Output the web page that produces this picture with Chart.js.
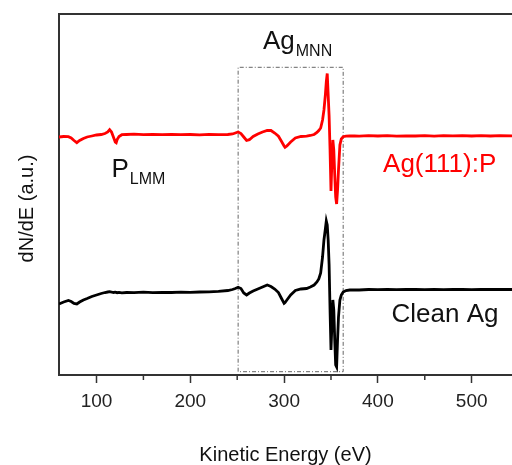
<!DOCTYPE html>
<html lang="en">
<head>
  <meta charset="UTF-8" />
  <title>AES spectra: Ag(111):P and clean Ag</title>
  <script src="https://cdn.jsdelivr.net/npm/chart.js"></script>
  <style>
    html, body { margin: 0; padding: 0; background: #fff; }
    canvas { display: block; }
  </style>
</head>
<body>
  <canvas id="grafico" width="512" height="465"></canvas>

  <script>
    // kinetic energy grid (eV)
    const energy = [
      60, 65, 70, 73, 76, 79, 82, 86, 90, 95, 100, 105, 109, 112, 114, 116, 118, 120, 121, 122, 124, 127,
      132, 140, 150, 160, 170, 180, 190, 200, 210, 220, 230, 240, 245, 248, 251, 254, 257, 260, 263,
      267, 272, 277, 282, 286, 290, 294, 297, 300, 301, 303, 307, 312, 318, 324, 328, 332, 335, 337, 339,
      341, 342.5, 344, 345, 346, 347, 348, 349, 350, 351, 352, 353, 354, 355, 356, 357, 358, 359.5,
      361, 363, 366, 370, 375, 380, 390, 400, 410, 420, 430, 440, 450, 460, 470, 480, 490, 500,
      510, 520, 530, 543
    ];

    // dN/dE (a.u.), curves already offset as in the figure
    const agP = [
      238, 238.5, 238.3, 237, 234.5, 232.3, 234.5, 236.5, 238, 239, 240, 240.5, 241.5, 243, 245.3, 243, 238, 233, 232.3, 235.5, 238.5, 240.3,
      240.5, 240.8, 240.3, 240.6, 240.4, 240.7, 240.3, 240.5, 240.2, 240.6, 240.4, 240.5, 241, 242, 243, 241.5, 238, 234.5, 235.3,
      238.5, 241, 243, 244.5, 244.5, 242, 238.8, 234, 229, 227.7, 229, 233, 237, 238.5, 238.8, 239.5, 240.5, 242.5, 244.5, 247,
      255, 265, 280, 293, 301.5, 280, 259, 225, 184, 215, 235, 225, 200, 178, 171, 185, 205, 230,
      236, 238.3, 238.8, 239, 239.2, 238.8, 239.3, 239, 239.4, 238.9, 239.2, 239, 239.4, 238.9, 239.3, 239.1, 239.4, 239,
      239.3, 239, 239.3, 239.1
    ];
    const cleanAg = [
      71, 73, 74.5, 73.5, 71.5, 71, 73, 75, 76.5, 78.5, 80, 81.5, 82.5, 83, 83.3, 83, 82.5, 82.8, 82.6, 82.3, 82.6, 82.2,
      82.5, 82.3, 82.8, 82.4, 82.7, 82.5, 82.9, 82.6, 83, 83.2, 83.6, 84.5, 85.5, 86.5, 87.7, 86.5, 82, 80, 82,
      84, 86, 88, 90, 88.5, 86, 82.5, 77, 71.7, 72.5, 75, 80, 84.5, 86, 86.5, 88, 90, 93, 96, 102,
      118, 135, 146, 154, 150, 135, 110, 65, 25, 50, 75, 65, 35, 10, 8, 35, 58, 75,
      80, 83, 84.5, 85, 85.2, 85, 85.5, 85.3, 85.6, 85.4, 85.7, 85.5, 85.3, 85.6, 85.4, 85.7, 85.5, 85.4,
      85.6, 85.5, 85.7, 85.5
    ];

    // dashed frame around the Ag MNN region
    const boxE = [251, 251, 363, 363, 251];
    const boxY = [3.3, 307.7, 307.7, 3.3, 3.3];

    const majorTicks = [100, 200, 300, 400, 500];
    const minorTicks = [150, 250, 350, 450];

    const FONT = '"Liberation Sans", Arial, sans-serif';
    const AXIS = '#333';

    const toXY = (xs, ys) => xs.map((x, i) => ({ x: x, y: ys[i] }));

    // top frame line, minor ticks, y title and peak labels
    const extras = {
      id: 'extras',
      afterDraw(chart) {
        const { ctx, chartArea, scales } = chart;
        const px = v => scales.x.getPixelForValue(v);
        const py = v => scales.y.getPixelForValue(v);
        ctx.save();
        ctx.strokeStyle = AXIS;
        ctx.lineWidth = 2;
        ctx.beginPath();
        ctx.moveTo(chartArea.left - 1, chartArea.top);
        ctx.lineTo(chartArea.right, chartArea.top);
        ctx.stroke();

        ctx.lineWidth = 1.5;
        minorTicks.forEach(v => {
          ctx.beginPath();
          ctx.moveTo(px(v), chartArea.bottom);
          ctx.lineTo(px(v), chartArea.bottom + 5);
          ctx.stroke();
        });

        ctx.fillStyle = '#111';
        ctx.font = '20px ' + FONT;
        ctx.textAlign = 'center';
        ctx.textBaseline = 'middle';
        ctx.translate(chartArea.left - 32, (chartArea.top + chartArea.bottom) / 2 + 14);
        ctx.rotate(-Math.PI / 2);
        ctx.fillText('dN/dE (a.u.)', 0, 0);
        ctx.restore();

        ctx.save();
        ctx.textAlign = 'left';
        ctx.textBaseline = 'alphabetic';
        const label = (main, sub, e, v, color) => {
          ctx.fillStyle = color;
          ctx.font = '26px ' + FONT;
          const x = px(e), y = py(v);
          ctx.fillText(main, x, y);
          if (sub) {
            const w = ctx.measureText(main).width;
            ctx.font = '16px ' + FONT;
            ctx.fillText(sub, x + w + 1, y + 7);
          }
        };
        label('Ag', 'MNN', 277.5, 325.7, '#111');
        label('P', 'LMM', 116, 197.7, '#111');
        label('Ag(111):P', '', 405.5, 203.3, '#ff0000');
        label('Clean Ag', '', 414.5, 52.7, '#111');
        ctx.restore();
      }
    };

    new Chart(document.getElementById('grafico'), {
      type: 'line',
      data: {
        datasets: [
          {
            label: 'Ag(111):P',
            data: toXY(energy, agP),
            borderColor: '#ff0000',
            borderWidth: 2.8,
            pointRadius: 0,
            order: 1
          },
          {
            label: 'Clean Ag',
            data: toXY(energy, cleanAg),
            borderColor: '#000000',
            borderWidth: 2.8,
            pointRadius: 0,
            order: 2
          },
          {
            label: 'Ag MNN',
            data: toXY(boxE, boxY),
            borderColor: '#666',
            borderWidth: 1,
            borderDash: [4, 2, 1, 2],
            pointRadius: 0,
            order: 3
          }
        ]
      },
      options: {
        responsive: false,
        animation: false,
        layout: { padding: { top: 14, right: 0, left: 0, bottom: 0 } },
        plugins: {
          legend: { display: false },
          tooltip: { enabled: false }
        },
        scales: {
          x: {
            type: 'linear',
            min: 60,
            max: 543,
            afterFit: s => { s.height = 90; },
            afterBuildTicks: s => { s.ticks = majorTicks.map(v => ({ value: v })); },
            ticks: {
              includeBounds: false,
              padding: 7,
              color: '#222',
              font: { family: FONT, size: 19 },
              maxRotation: 0,
              autoSkip: false
            },
            grid: {
              display: true,
              drawOnChartArea: false,
              drawTicks: true,
              tickLength: 8,
              tickWidth: 1.5,
              tickColor: AXIS
            },
            border: { display: true, color: AXIS, width: 2 },
            title: {
              display: true,
              text: 'Kinetic Energy (eV)',
              color: '#111',
              font: { family: FONT, size: 20, lineHeight: 1 },
              padding: { top: 0, bottom: 0 }
            }
          },
          y: {
            type: 'linear',
            min: 0,
            max: 361,
            afterFit: s => { s.width = 59; },
            ticks: { display: false },
            grid: { display: false, drawTicks: false },
            border: { display: true, color: AXIS, width: 2 }
          }
        }
      },
      plugins: [extras]
    });
  </script>
</body>
</html>
